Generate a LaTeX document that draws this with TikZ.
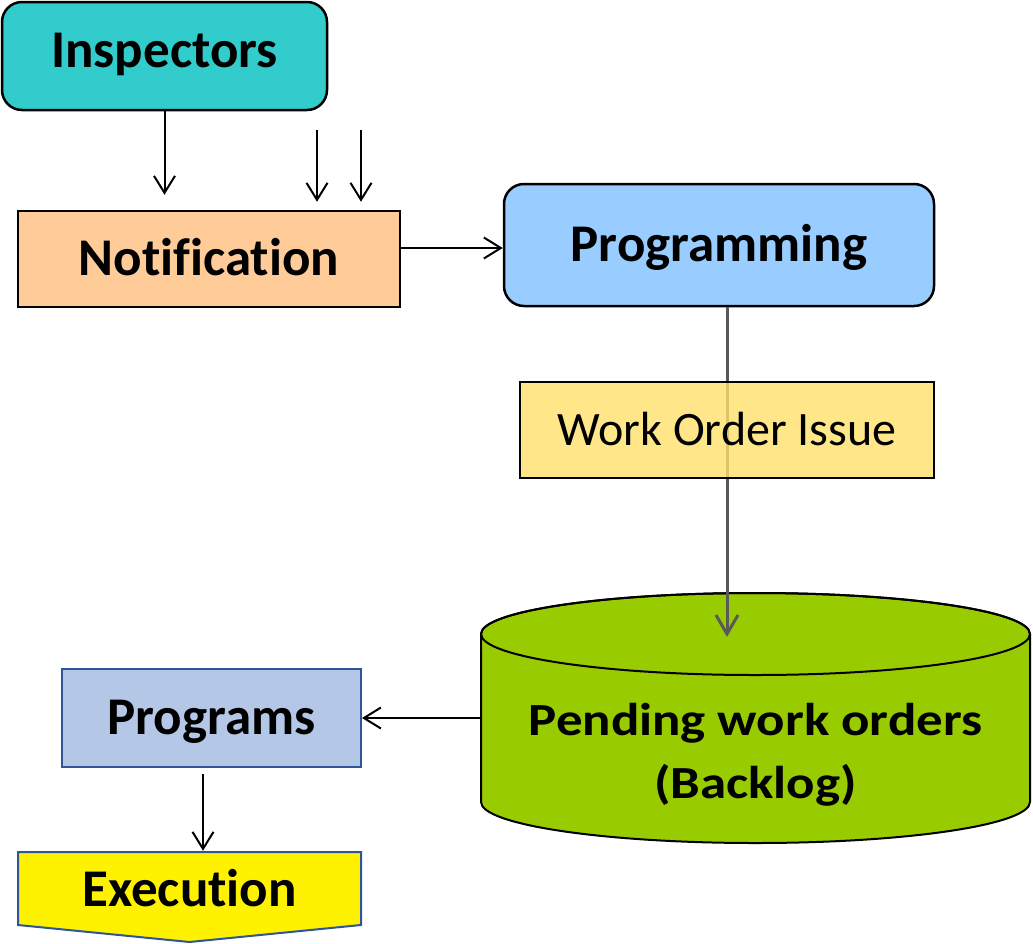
\documentclass[tikz,border=0pt]{standalone}
\usepackage{fontspec}
\setmainfont{Carlito}[Ligatures={NoCommon,NoContextual,NoRequired},Contextuals=NoAlternate]
\usetikzlibrary{arrows.meta}
\definecolor{inspcol}{HTML}{33CCCC}
\definecolor{notifcol}{HTML}{FFCC99}
\definecolor{progcol}{HTML}{99CCFF}
\definecolor{wocol}{HTML}{FFE06B}
\definecolor{tankcol}{HTML}{99CC00}
\definecolor{pgmcol}{HTML}{B4C7E7}
\definecolor{pgmline}{HTML}{2F5597}
\definecolor{flowgray}{HTML}{595959}
\begin{document}
\begin{tikzpicture}[x=1pt, y=-1pt,
    box/.style={draw=black, line width=2.5pt, inner sep=0pt, text height=33.5pt, text depth=0pt, font=\fontsize{53}{60}\selectfont\bfseries},
    arr/.style={-{Straight Barb[length=17pt,width=21pt]}, line width=2pt},
    grayarr/.style={-{Straight Barb[length=19pt,width=22pt]}, line width=3pt, draw=flowgray}]
    \useasboundingbox (0,0) rectangle (1033,943);

    \node[box, rounded corners=20pt, fill=inspcol, minimum width=325pt, minimum height=108pt, text depth=11pt] (insp) at (164.5,56) {Inspectors};
    \node[box, fill=notifcol, minimum width=382pt, minimum height=96pt] (notif) at (209,259) {Notification};
    \node[box, rounded corners=20pt, fill=progcol, minimum width=430pt, minimum height=122pt] (prog) at (719,245) {Programming};

    % backlog drum
    \coordinate (tanktop) at (755.5,634);
    \draw[line width=2pt, fill=tankcol] (481,634) -- (481,802) arc[start angle=180, end angle=0, x radius=274.5, y radius=41] -- (1030,634) arc[start angle=0, end angle=-180, x radius=274.5, y radius=41] -- cycle;
    \draw[line width=2pt] (tanktop) ellipse[x radius=274.5, y radius=41];
    \node[anchor=base, align=center, inner sep=0pt, minimum width=549pt, font=\fontsize{46}{63}\selectfont\bfseries] (tank) at (755.5,798) {\scalebox{1.15}[1]{Pending work orders}\\\scalebox{1.15}[1]{(Backlog)}};

    \coordinate (wopos) at (727,430);
    \draw[grayarr] (prog.south -| wopos) -- ([yshift=-3pt]wopos |- tanktop);
    \node[box, fill=wocol, fill opacity=0.8, text opacity=1, minimum width=414pt, minimum height=96pt, text height=30pt, font=\fontsize{48}{54}\selectfont] (wo) at (wopos) {Work Order Issue};

    \node[box, draw=pgmline, line width=2pt, fill=pgmcol, minimum width=299pt, minimum height=98pt] (pgms) at (211.5,718) {Programs};
    \draw[draw=pgmline, line width=2pt, fill=yellow] (18,852) -- (361,852) -- (361,925) -- (189.5,942) -- (18,925) -- cycle;
    \node[box, draw=none, minimum width=343pt, minimum height=76pt] (exec) at (189.5,890) {Execution};

    \coordinate (inA) at (317,130);
    \coordinate (inB) at (361,130);

    \draw[arr, shorten >=15pt] (insp.south) -- (insp.south |- notif.north);
    \draw[arr, shorten >=8pt] (inA) -- (inA |- notif.north);
    \draw[arr, shorten >=8pt] (inB) -- (inB |- notif.north);
    \draw[arr] ([yshift=11pt]notif.east) -- ([yshift=11pt]notif.east -| prog.west);
    \draw[arr] (tank.west |- pgms.east) -- (pgms.east);
    \draw[arr, shorten <=6pt] ([xshift=-8.5pt]pgms.south) -- ([xshift=-8.5pt]pgms.south |- exec.north);
\end{tikzpicture}
\end{document}
